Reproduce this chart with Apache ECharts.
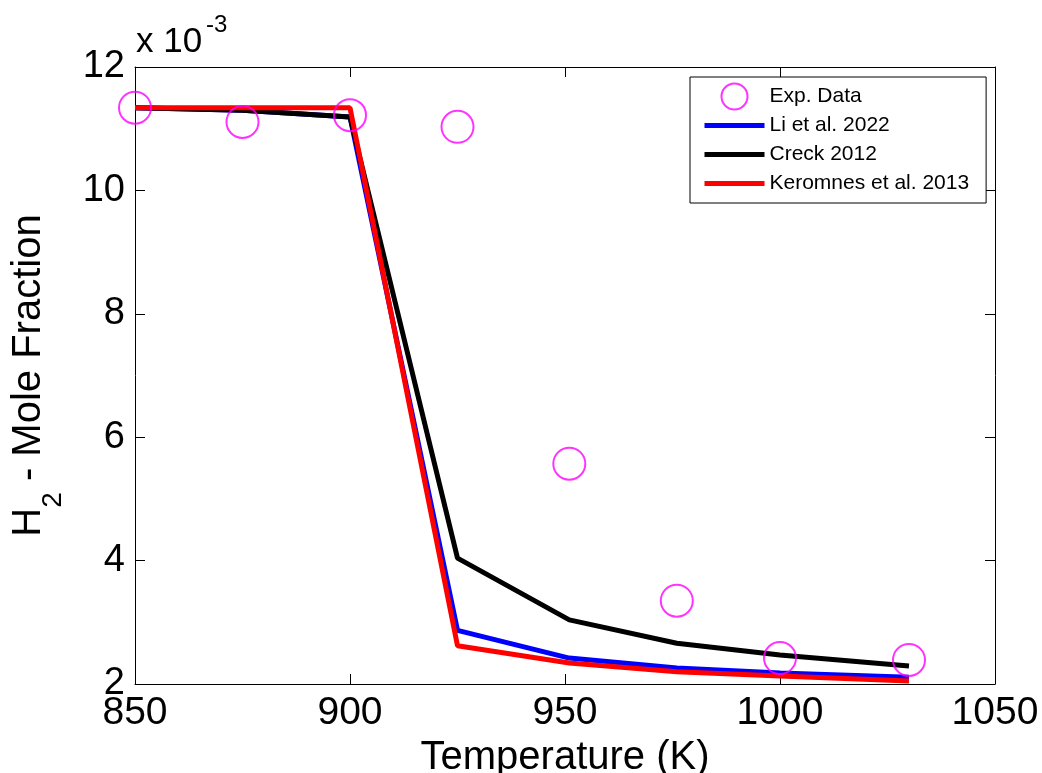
<!DOCTYPE html>
<html><head><meta charset="utf-8">
<script src="https://cdn.jsdelivr.net/npm/echarts@6/dist/echarts.min.js"></script>
<style>html,body{margin:0;padding:0;background:#fff}#c{width:1042px;height:773px}</style>
</head><body><div id="c"></div>
<script>
// Data (H2 mole fraction, units of 1e-3)
const expT   = [850, 875, 900, 925, 951, 976, 1000, 1030];
const expH2  = [11.34, 11.11, 11.22, 11.03, 5.57, 3.35, 2.42, 2.39];
const modelT = [850, 875, 900, 925, 951, 976, 1000, 1030];
const liH2   = [11.34, 11.30, 11.19, 2.87, 2.42, 2.26, 2.18, 2.11];
const creckH2= [11.34, 11.30, 11.19, 4.04, 3.04, 2.66, 2.47, 2.29];
const keroH2 = [11.34, 11.34, 11.34, 2.62, 2.34, 2.20, 2.13, 2.05];
const xTicks = [850, 900, 950, 1000, 1050];
const yTicks = [2, 4, 6, 8, 10, 12];

const pair = (xs, ys) => xs.map((x, i) => [x, ys[i]]);
const FONT = 'Liberation Sans, Arial, sans-serif';

const chart = echarts.init(document.getElementById('c'), null, {renderer: 'canvas'});
const axisCommon = {
  axisLine: {show: true, lineStyle: {color: '#000', width: 1}},
  axisTick: {show: true, inside: true, length: 10, lineStyle: {color: '#000', width: 1}},
  splitLine: {show: false}
};
const lineLegend = (name, color) => ({
  name: name, itemStyle: {opacity: 0}, lineStyle: {width: 5, color: color}
});
chart.setOption({
  animation: false,
  backgroundColor: '#fff',
  grid: {left: 135, right: 47, top: 67, bottom: 89, containLabel: false, outerBoundsMode: 'none'},
  xAxis: [
    Object.assign({}, axisCommon, {
      type: 'value', min: xTicks[0], max: xTicks[xTicks.length - 1], interval: 50,
      axisLabel: {fontSize: 39, color: '#000', fontFamily: FONT, margin: 10,
                  formatter: v => String(v)},
      name: 'Temperature (K)', nameLocation: 'middle', nameGap: 46,
      nameTextStyle: {fontSize: 40, color: '#000', fontFamily: FONT}
    }),
    Object.assign({}, axisCommon, {
      type: 'value', position: 'top', min: xTicks[0], max: xTicks[xTicks.length - 1], interval: 50,
      axisLabel: {show: false}
    })
  ],
  yAxis: [
    Object.assign({}, axisCommon, {
      type: 'value', min: yTicks[0], max: yTicks[yTicks.length - 1], interval: 2,
      axisLabel: {fontSize: 38, color: '#000', fontFamily: FONT, margin: 10},
      name: '{a|H}{s|2}{a| - Mole Fraction}', nameLocation: 'middle', nameGap: 68, nameRotate: 90,
      nameTextStyle: {
        color: '#000', fontFamily: FONT,
        rich: {
          a: {fontSize: 40, fontFamily: FONT, color: '#000', verticalAlign: 'top'},
          s: {fontSize: 28, fontFamily: FONT, color: '#000', verticalAlign: 'bottom', padding: [30, 0, 0, 0]}
        }
      }
    }),
    Object.assign({}, axisCommon, {
      type: 'value', position: 'right', min: yTicks[0], max: yTicks[yTicks.length - 1], interval: 2,
      axisLabel: {show: false}
    })
  ],
  legend: {
    orient: 'vertical', left: 690, top: 77,
    padding: [5, 17, 5, 12],
    itemGap: 0, itemWidth: 60, itemHeight: 26,
    borderColor: '#000', borderWidth: 1, backgroundColor: '#fff', borderRadius: 0,
    textStyle: {fontSize: 21, lineHeight: 29, color: '#000', fontFamily: FONT},
    data: [
      {name: 'Exp. Data', icon: 'circle', itemStyle: {color: 'rgba(0,0,0,0)', borderColor: '#ff00ff', borderWidth: 2}},
      lineLegend('Li et al. 2022', '#0000ff'),
      lineLegend('Creck 2012', '#000000'),
      lineLegend('Keromnes et al. 2013', '#ff0000')
    ]
  },
  graphic: [
    {type: 'text', left: 136, top: 25,
     style: {text: 'x 10', fontSize: 35, fontFamily: FONT, fill: '#000'}},
    {type: 'text', left: 206, top: 13,
     style: {text: '-3', fontSize: 24, fontFamily: FONT, fill: '#000'}}
  ],
  series: [
    {
      name: 'Li et al. 2022', type: 'line', data: pair(modelT, liH2),
      symbol: 'none', lineStyle: {color: '#0000ff', width: 5}, itemStyle: {color: '#0000ff'}, z: 2
    },
    {
      name: 'Creck 2012', type: 'line', data: pair(modelT, creckH2),
      symbol: 'none', lineStyle: {color: '#000000', width: 5}, itemStyle: {color: '#000000'}, z: 3
    },
    {
      name: 'Keromnes et al. 2013', type: 'line', data: pair(modelT, keroH2),
      symbol: 'none', lineStyle: {color: '#ff0000', width: 5}, itemStyle: {color: '#ff0000'}, z: 4
    },
    {
      name: 'Exp. Data', type: 'scatter', data: pair(expT, expH2),
      symbol: 'circle', symbolSize: 32,
      itemStyle: {color: 'rgba(0,0,0,0)', borderColor: '#ff00ff', borderWidth: 2}, z: 5
    }
  ]
});
</script></body></html>
